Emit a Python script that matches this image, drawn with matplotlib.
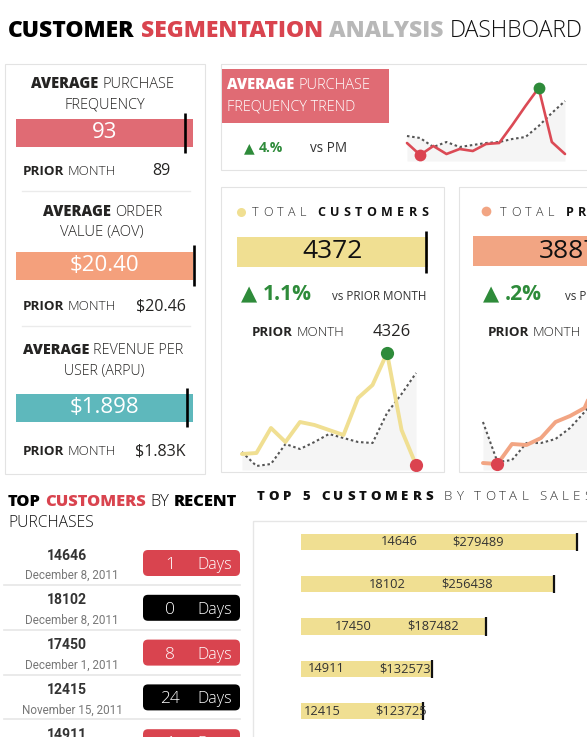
import matplotlib
matplotlib.use('Agg')
import matplotlib.pyplot as plt
import numpy as np
from matplotlib.patches import Rectangle, FancyBboxPatch
from matplotlib.transforms import offset_copy

W, H = 587, 737
FONT = ['Open Sans', 'DejaVu Sans']
plt.rcParams['font.family'] = FONT

# ---- data ----
apf_value, apf_prior = 93, 89
aov_value, aov_prior = 20.40, 20.46
arpu_value, arpu_prior = 1898, 1830
cust_value, cust_prior = 4372, 4326
prod_value, prod_prior = 3887, 3879
apf_change, cust_change, prod_change = '4.%', '1.1%', '.2%'

# monthly trend lines (relative heights), current vs prior period
apf_trend = [18, 6, 15, 7, 12, 10, 17, 18, 36, 55, 73, 19, 7]
apf_trend_pm = [25, 23, 14, 19, 14, 16, 18, 19, 22, 24, 35, 48, 60]
cust_trend = [16, 17, 42, 28, 48, 45, 40, 35, 72, 85, 117, 40, 5]
cust_trend_pm = [18, 4, 6, 26, 21, 28, 36, 32, 28, 27, 57, 76, 97]
prod_trend = [7, 6, 26, 25, 32, 48, 54, 62, 95]
prod_trend_pm = [48, 8, 10, 27, 27, 31, 42, 58, 75]

recent_ids = ['14646', '18102', '17450', '12415', '14911']
recent_dates = ['December 8, 2011', 'December 8, 2011', 'December 1, 2011',
                'November 15, 2011', 'December 8, 2011']
recent_days = [1, 0, 8, 24, 1]

top5_ids = ['14646', '18102', '17450', '14911', '12415']
top5_sales = [279489, 256438, 187482, 132573, 123725]

RED = '#E06B74'
PILL_RED = '#D9444F'
ORANGE = '#F4A07C'
ORANGE2 = '#F2A583'
TEAL = '#5EB8BC'
YELLOW = '#F0DF92'
GREEN = '#2E8B3A'
DOT_RED = '#DB4350'
DARK = '#252423'

fig = plt.figure(figsize=(W / 100, H / 100), dpi=100)
renderer = fig.canvas.get_renderer()

bg = fig.add_axes([0, 0, 1, 1])
bg.set_xlim(0, W)
bg.set_ylim(H, 0)
bg.axis('off')
bg.set_zorder(5)


def px_axes(x0, y0, x1, y1):
    ax = fig.add_axes([x0 / W, 1 - y1 / H, (x1 - x0) / W, (y1 - y0) / H])
    ax.axis('off')
    return ax


def chain(x, y, parts, size, ha='left', width=None, family=FONT):
    def build(sz):
        ts, cur = [], 0.0
        for k, (s, c, wt) in enumerate(parts):
            t = bg.text(cur, y, s, fontsize=sz, color=c, fontweight=wt,
                        family=family, va='baseline', ha='left')
            cur += t.get_window_extent(renderer).width
            if k < len(parts) - 1:
                cur += 0.37 * sz
            ts.append(t)
        return ts, cur
    ts, total = build(size)
    if width:
        for t in ts:
            t.remove()
        ts, total = build(size * width / total)
    shift = x - total / 2 if ha == 'center' else x
    for t in ts:
        t.set_x(t.get_position()[0] + shift)
    return ts


def spaced(x, y, parts, size, end=None, upto=None, track=3.0):
    # letter-spaced caption, drawn one glyph at a time
    chars = [(ch, c, wt) for s, c, wt in parts for ch in s]
    widths = []
    for ch, c, wt in chars:
        if ch == ' ':
            widths.append(0.35 * size)
        else:
            t = bg.text(0, 0, ch, fontsize=size, fontweight=wt)
            widths.append(t.get_window_extent(renderer).width)
            t.remove()
    n = upto or len(chars)
    if end is not None:
        track = (end - x - sum(widths[:n])) / (n - 1)
    cur = x
    for (ch, c, wt), w in zip(chars, widths):
        if ch != ' ' and cur < W - 1:
            bg.text(cur, y, ch, fontsize=size, color=c, fontweight=wt, va='baseline')
        cur += w + track
    return track


def bullet(x0, x1, y0, y1, m0, m1, value, target, color, label, lcolor, size):
    ax = px_axes(x0, m0, x1, m1)
    ax.set_xlim(0, value)
    ax.set_ylim(-0.5, 0.5)
    ax.barh(0, value, height=(y1 - y0) / (m1 - m0), color=color, lw=0)
    ax.vlines(target, -0.5, 0.5, color='black', lw=1.9, clip_on=False)
    ax.text(0.5, 0.5, label, transform=ax.transAxes, ha='center', va='center',
            fontsize=size, color=lcolor, fontweight='normal')
    return ax


def spark(x0, y0, x1, y1, xlim, main, prior, color, lw, dots=14):
    ax = px_axes(x0, y0, x1, y1)
    x = np.arange(len(main))
    ax.fill_between(x, prior, 0, color='#F5F5F5', lw=0)
    ax.plot(x, prior, color='#555555', lw=1.5, ls=(0, (1.2, 1.3)))
    ax.plot(x, main, color=color, lw=lw, solid_capstyle='round', solid_joinstyle='round')
    hi, lo = int(np.argmax(main)), int(np.argmin(main))
    ax.plot(x[hi], main[hi], 'o', color=GREEN, ms=dots, mew=0, clip_on=False)
    ax.plot(x[lo], main[lo], 'o', color=DOT_RED, ms=dots, mew=0, clip_on=False)
    ax.set_xlim(*xlim)
    ax.set_ylim(0, y1 - y0)
    return ax


# ---- title ----
chain(8, 37, [('CUSTOMER', '#000000', 'heavy'), ('SEGMENTATION', PILL_RED, 'heavy'),
              ('ANALYSIS', '#B8B8B8', 'heavy'), ('DASHBOARD', '#111111', 'light')],
      19, width=575)

# ---- left KPI panel ----
bg.add_patch(Rectangle((5, 64), 200, 410, fill=False, ec='#E3E3E3', lw=0.8))
chain(103, 88, [('AVERAGE', DARK, 'heavy'), ('PURCHASE', DARK, 'light')], 10.5, 'center', 143)
chain(104.5, 108, [('FREQUENCY', DARK, 'light')], 10.5, 'center', 81)
bullet(16, 193, 119, 147, 113, 153, apf_value, apf_prior, RED, f'{apf_value}', 'white', 16)
chain(23, 175, [('PRIOR', DARK, 'bold'), ('MONTH', DARK, 'light')], 10, width=93)
chain(161, 175, [(f'{apf_prior}', DARK, 'normal')], 11.5, 'center')
bg.plot([22, 190], [191, 191], color='#EBEBEB', lw=1)

chain(102.5, 216, [('AVERAGE', DARK, 'heavy'), ('ORDER', DARK, 'light')], 10.5, 'center', 119)
chain(102, 236, [('VALUE (AOV)', DARK, 'light')], 10.5, 'center', 84)
bullet(16, 193, 252, 280, 245, 286, aov_value, aov_prior, ORANGE, f'${aov_value:.2f}', 'white', 16)
chain(23, 310, [('PRIOR', DARK, 'bold'), ('MONTH', DARK, 'light')], 10, width=93)
chain(161, 310, [(f'${aov_prior:.2f}', DARK, 'normal')], 11.5, 'center')
bg.plot([22, 190], [326, 326], color='#EBEBEB', lw=1)

chain(103, 354, [('AVERAGE', DARK, 'heavy'), ('REVENUE PER', DARK, 'light')], 10.5, 'center', 161)
chain(104, 375, [('USER (ARPU)', DARK, 'light')], 10.5, 'center', 81)
bullet(16, 193, 394, 422, 388, 427, arpu_value, arpu_prior, TEAL,
       '$' + f'{arpu_value:,}'.replace(',', '.'), 'white', 16)
chain(23, 455, [('PRIOR', DARK, 'bold'), ('MONTH', DARK, 'light')], 10, width=93)
chain(160, 455, [(f'${arpu_prior / 1000:.2f}K', DARK, 'normal')], 11.5, 'center')

# ---- purchase frequency trend ----
bg.add_patch(Rectangle((221, 64), 400, 106, fill=False, ec='#E3E3E3', lw=0.8))
bg.add_patch(Rectangle((222, 69), 167, 54, color=RED, lw=0))
chain(227, 89, [('AVERAGE', 'white', 'heavy'), ('PURCHASE', 'white', 'light')], 10.5, width=143)
chain(227, 110, [('FREQUENCY TREND', 'white', 'light')], 10.5, width=128)
chain(244, 152, [('▲', GREEN, 'bold'), (apf_change, GREEN, 'bold')], 9.5, width=39)
chain(310, 152, [('vs PM', '#333333', 'normal')], 10.5, width=37)
spark(405, 82, 575, 161, (-0.15, 12.76), apf_trend, apf_trend_pm, '#DB4A55', 1.9, dots=8.5)

# ---- total customers ----
bg.add_patch(Rectangle((221, 187), 223, 285, fill=False, ec='#E3E3E3', lw=0.8))
bg.plot(241, 211.5, 'o', color=YELLOW, ms=6.5, mew=0)
trk = spaced(252, 216, [('TOTAL', '#333333', 'light'), (' ', '#333333', 'light'),
                        ('CUSTOMERS', '#111111', 'bold')], 9, end=428)
bullet(237, 428, 237, 267, 231, 273, cust_value, cust_prior, YELLOW, f'{cust_value}', '#111111', 19)
chain(241, 300, [('▲', GREEN, 'bold'), (cust_change, GREEN, 'bold')], 14, width=71)
chain(332, 300, [('vs PRIOR MONTH', '#333333', 'normal')], 8.5, width=94)
chain(252, 336, [('PRIOR', DARK, 'bold'), ('MONTH', DARK, 'light')], 10.5, width=93)
chain(392, 336, [(f'{cust_prior}', DARK, 'normal')], 12, 'center')
spark(237, 345, 421, 470, (-0.34, 12.34), cust_trend, cust_trend_pm, YELLOW, 2.8, dots=9.5)

# ---- total products (cut off at the right edge) ----
bg.add_patch(Rectangle((459, 187), 223, 285, fill=False, ec='#E3E3E3', lw=0.8))
bg.plot(486, 211, 'o', color=ORANGE2, ms=7, mew=0)
spaced(500, 216, [('TOTAL', '#333333', 'light'), (' ', '#333333', 'light'),
                  ('PRODUCTS', '#111111', 'bold')], 9, track=trk)
bullet(473, 664, 236, 266, 230, 272, prod_value, prod_prior, ORANGE2, f'{prod_value}', '#111111', 19)
chain(483, 300, [('▲', GREEN, 'bold'), (prod_change, GREEN, 'bold')], 14, width=59)
chain(565, 300, [('vs PRIOR MONTH', '#333333', 'normal')], 8.5, width=94)
chain(488, 336, [('PRIOR', DARK, 'bold'), ('MONTH', DARK, 'light')], 10.5, width=94)
spark(477, 345, 660, 470, (-0.41, 12.2), prod_trend, prod_trend_pm, ORANGE2, 2.8, dots=9.5)

# ---- top customers by recent purchases ----
chain(8, 506, [('TOP', '#000000', 'heavy'), ('CUSTOMERS', PILL_RED, 'heavy'),
               ('BY', '#111111', 'light'), ('RECENT', '#000000', 'heavy')], 12.5, width=229)
chain(8, 527, [('PURCHASES', '#111111', 'light')], 12.5, width=86)
ID_FONT = ['Roboto', 'DejaVu Sans']
for k, (cid, dt, days) in enumerate(zip(recent_ids, recent_dates, recent_days)):
    top = 550 + 44.8 * k
    chain(66.5, top + 9.5, [(cid, '#333333', 'bold')], 12, 'center', 40, family=ID_FONT)
    chain(72, top + 29, [(dt, '#777777', 'normal')], 8.4, 'center', family=ID_FONT)
    bg.add_patch(FancyBboxPatch((143, top), 97, 26, boxstyle='round,pad=0,rounding_size=5',
                                fc=PILL_RED if k % 2 == 0 else '#000000', ec='none'))
    chain(170, top + 19, [(f'{days}', 'white', 'light')], 12.5, 'center')
    chain(215, top + 19, [('Days', 'white', 'light')], 11.5, 'center')
    bg.plot([4, 240], [top + 35, top + 35], color='#E6E6E6', lw=1.2)

# ---- top 5 customers by total sales ----
spaced(257, 500, [('TOP 5 CUSTOMERS', '#111111', 'heavy'), (' ', '#111111', 'light'),
                  ('BY TOTAL SALES', '#333333', 'light')], 9.5, end=433, upto=15)
bg.add_patch(Rectangle((253, 521), 400, 240, fill=False, ec='#E6E6E6', lw=1))
axb = px_axes(301, 520, 601, 737)
axb.set_xlim(0, max(top5_sales) * 300 / 276)
axb.set_ylim(4.615, -0.52)
yy = np.arange(len(top5_sales))
axb.barh(yy, top5_sales, height=0.38, color=YELLOW, lw=0)
axb.vlines(top5_sales, yy - 0.215, yy + 0.215, color='#111111', lw=1.6)
left_lab = offset_copy(axb.transData, fig=fig, x=-40, y=0, units='dots')
right_lab = offset_copy(axb.transData, fig=fig, x=39, y=0, units='dots')
for i, (cid, s) in enumerate(zip(top5_ids, top5_sales)):
    axb.text(s / 2, i, cid, transform=left_lab, ha='center', va='center',
             fontsize=9.3, color='#333333')
    axb.text(s / 2, i, f'${s}', transform=right_lab, ha='center', va='center',
             fontsize=9.3, color='#333333')

fig.savefig('out.png', dpi=100)
